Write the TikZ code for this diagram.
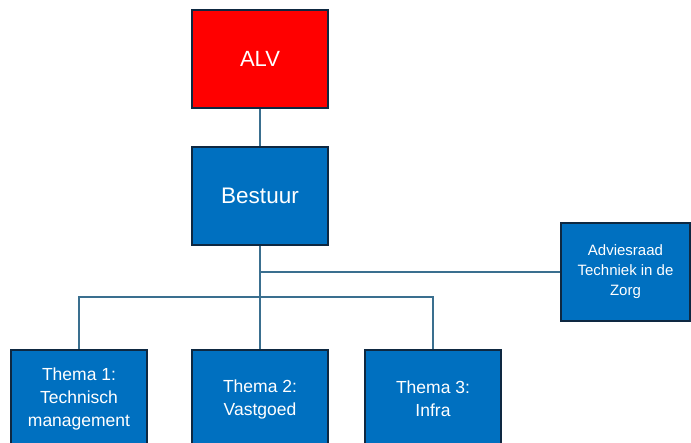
\documentclass[tikz,border=0pt]{standalone}
\usepackage{fontspec}
\setmainfont{Liberation Sans}
\definecolor{boxblue}{HTML}{0070C0}
\definecolor{boxred}{HTML}{FF0000}
\definecolor{boxborder}{HTML}{0E2841}
\definecolor{linkcol}{HTML}{3A6F8F}
\begin{document}
\begin{tikzpicture}[x=1pt,y=-1pt,
  orgbox/.style={draw=boxborder,line width=1.6pt,fill=boxblue,text=white,
    minimum width=136pt,minimum height=98pt,inner sep=0pt,align=center},
  link/.style={draw=linkcol,line width=1.4pt}]
\useasboundingbox (0,0) rectangle (691,443);
\clip (0,0) rectangle (691,443);
\node[orgbox,fill=boxred,font=\fontsize{22}{26}\selectfont] (alv) at (260,59) {ALV};
\node[orgbox,font=\fontsize{22.5}{26}\selectfont] (bestuur) at (260,196) {Bestuur};
\node[orgbox,minimum width=129pt,minimum height=98pt,font=\fontsize{15}{20}\selectfont] (advies) at (625.5,272) {Adviesraad\\Techniek in de\\Zorg};
\node[orgbox,font=\fontsize{17.5}{23}\selectfont] (t1) at (79,399) {Thema 1:\\Technisch\\management};
\node[orgbox,font=\fontsize{17.5}{23}\selectfont] (t2) at (260,399) {Thema 2:\\Vastgoed};
\node[orgbox,font=\fontsize{17.5}{23}\selectfont] (t3) at (433,399) {Thema 3:\\Infra};
\coordinate (bus) at (260,297);
\draw[link] (alv.south) -- (bestuur.north);
\draw[link] (bestuur.south) |- (advies.west);
\draw[link] (bestuur.south) -- (bus) -- (t2.north);
\draw[link] (t1.north) |- (bus) -| (t3.north);
\end{tikzpicture}
\end{document}
